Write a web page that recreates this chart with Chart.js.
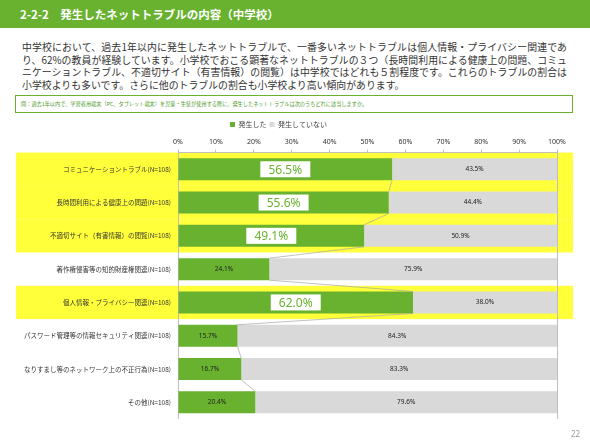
<!DOCTYPE html>
<html>
<head>
<meta charset="utf-8">
<script src="https://cdn.jsdelivr.net/npm/chart.js@4.4.0/dist/chart.umd.min.js"></script>
<style>
  body { margin: 0; width: 590px; height: 442px; background: #fff; position: relative; overflow: hidden;
         font-family: "Noto Sans CJK JP", "Noto Sans", sans-serif; }
  #head { position: absolute; left: 0; top: 0; width: 590px; height: 28px; background: #68b22f; }
  #head span { position: absolute; left: 20px; top: 5px; color: #fff; font-weight: bold; font-size: 11.5px; line-height: 18px; }
  #lead { position: absolute; left: 22px; top: 41px; width: 545px; font-size: 9.9px; line-height: 12.7px; color: #333; }
  #lead div { text-align: justify; text-align-last: justify; white-space: nowrap; }
  #lead div.last { text-align-last: left; }
  #q { position: absolute; left: 15px; top: 95px; width: 556px; height: 16px; border: 1.5px solid #68b22f; }
  #q span { position: absolute; left: 5px; top: 4px; font-size: 5.2px; line-height: 8px; color: #4d9b1f; white-space: nowrap; }
  #chart { position: absolute; left: 0; top: 118px; }
  #page { position: absolute; left: 571px; top: 428px; font-size: 8px; color: #999; font-family: "Noto Sans", sans-serif; }
</style>
</head>
<body>
<div id="head"><span>2-2-2　発生したネットトラブルの内容（中学校）</span></div>
<div id="lead">
  <div>中学校において、過去1年以内に発生したネットトラブルで、一番多いネットトラブルは個人情報・プライバシー関連であ</div>
  <div>り、62%の教員が経験しています。小学校でおこる顕著なネットトラブルの３つ（長時間利用による健康上の問題、コミュ</div>
  <div>ニケーショントラブル、不適切サイト（有害情報）の閲覧）は中学校ではどれも５割程度です。これらのトラブルの割合は</div>
  <div class="last">小学校よりも多いです。さらに他のトラブルの割合も小学校より高い傾向があります。</div>
</div>
<div id="q"><span>問：過去1年以内で、学習者用端末（PC、タブレット端末）を児童・生徒が使用する際に、発生したネットトラブルは次のうちどれに該当しますか。</span></div>
<canvas id="chart" width="590" height="324"></canvas>
<div id="page">22</div>
<script>
// data
const categories = [
  'コミュニケーショントラブル(N=108)',
  '長時間利用による健康上の問題(N=108)',
  '不適切サイト（有害情報）の閲覧(N=108)',
  '著作権侵害等の知的財産権関連(N=108)',
  '個人情報・プライバシー関連(N=108)',
  'パスワード管理等の情報セキュリティ関連(N=108)',
  'なりすまし等のネットワーク上の不正行為(N=108)',
  'その他(N=108)'
];
const happened = [56.5, 55.6, 49.1, 24.1, 62.0, 15.7, 16.7, 20.4];
const notHappened = [43.5, 44.4, 50.9, 75.9, 38.0, 84.3, 83.3, 79.6];
const highlightRows = [0, 1, 2, 4];

const green = '#68b22f';
const gray = '#d9d9d9';

// yellow bands behind the highlighted rows
const bandPlugin = {
  id: 'bands',
  beforeDraw(chart) {
    const ctx = chart.ctx;
    const y = chart.scales.y;
    const step = y.getPixelForValue(1) - y.getPixelForValue(0);
    ctx.save();
    ctx.fillStyle = '#ffff3a';
    highlightRows.forEach(i => {
      const c = y.getPixelForValue(i);
      ctx.fillRect(16, c - step / 2, 557, step);
    });
    ctx.restore();
  }
};

// series lines + value labels
const labelPlugin = {
  id: 'labels',
  afterDatasetsDraw(chart) {
    const ctx = chart.ctx;
    const m0 = chart.getDatasetMeta(0).data;
    const m1 = chart.getDatasetMeta(1).data;
    ctx.save();
    ctx.strokeStyle = '#a6a6a6';
    ctx.lineWidth = 0.7;
    for (let i = 0; i < m0.length - 1; i++) {
      const a = m0[i], b = m0[i + 1];
      ctx.beginPath();
      ctx.moveTo(a.x, a.y + a.height / 2);
      ctx.lineTo(b.x, b.y - b.height / 2);
      ctx.stroke();
    }
    ctx.textAlign = 'center';
    ctx.textBaseline = 'middle';
    m0.forEach((bar, i) => {
      const cx = (bar.x + bar.base) / 2;
      const txt = happened[i].toFixed(1) + '%';
      if (highlightRows.includes(i)) {
        ctx.fillStyle = '#fff';
        ctx.fillRect(cx - 25, bar.y - 8, 50, 16);
        ctx.fillStyle = green;
        ctx.font = '12px "Noto Sans", sans-serif';
        ctx.fillText(txt, cx, bar.y + 1);
      } else {
        ctx.fillStyle = '#222';
        ctx.font = '6.5px "Noto Sans", sans-serif';
        ctx.fillText(txt, cx, bar.y);
      }
    });
    m1.forEach((bar, i) => {
      const cx = (bar.x + bar.base) / 2;
      ctx.fillStyle = '#222';
      ctx.font = '6.5px "Noto Sans", sans-serif';
      ctx.fillText(notHappened[i].toFixed(1) + '%', cx, bar.y);
    });
    ctx.restore();
  }
};

new Chart(document.getElementById('chart'), {
  type: 'bar',
  data: {
    labels: categories,
    datasets: [
      { label: '発生した', data: happened, backgroundColor: green },
      { label: '発生していない', data: notHappened, backgroundColor: gray }
    ]
  },
  options: {
    indexAxis: 'y',
    responsive: false,
    animation: false,
    barPercentage: 0.66,
    categoryPercentage: 1,
    layout: { padding: { left: 0, right: 33, top: 0, bottom: 23 } },
    plugins: {
      legend: {
        position: 'top',
        labels: {
          boxWidth: 5, boxHeight: 5, padding: 3, color: '#444',
          font: { size: 7, family: '"Noto Sans CJK JP"' }
        }
      },
      tooltip: { enabled: false }
    },
    scales: {
      x: {
        position: 'top',
        stacked: true,
        min: 0, max: 100,
        afterFit: s => { s.height = 14.6; },
        ticks: {
          stepSize: 10, padding: 3, color: '#333',
          font: { size: 7, family: '"Noto Sans", sans-serif' },
          callback: v => v + '%'
        },
        grid: {
          color: c => (c.tick && (c.tick.value === 0 || c.tick.value === 100)) ? '#bfbfbf' : 'rgba(0,0,0,0)',
          tickColor: '#bfbfbf',
          tickLength: 3
        },
        border: { color: '#bfbfbf' }
      },
      y: {
        stacked: true,
        afterFit: s => { s.width = 178; },
        ticks: {
          padding: 7, color: '#333',
          font: { size: 6.5, family: '"Noto Sans CJK JP"' }
        },
        grid: { display: false, drawTicks: false },
        border: { display: false }
      }
    }
  },
  plugins: [bandPlugin, labelPlugin]
});
</script>
</body>
</html>
